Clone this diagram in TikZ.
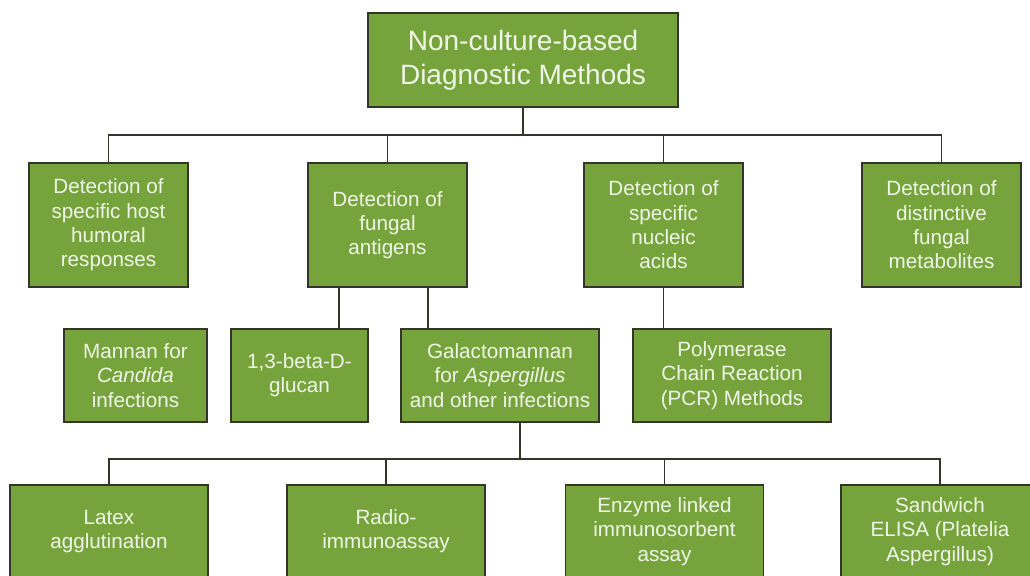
\documentclass[tikz,border=0pt]{standalone}
\usepackage{fontspec}
\setmainfont{Liberation Sans}
\usepackage{tikz}
\definecolor{boxgreen}{RGB}{118,163,60}
\definecolor{boxline}{RGB}{50,54,40}
\definecolor{boxtext}{RGB}{240,246,232}
\tikzset{
box/.style={draw=boxline, fill=boxgreen, line width=1.1pt, text=boxtext, align=center, inner sep=2pt, font=\fontsize{15.5}{18.2}\selectfont}, % every green box
rootbox/.style={box, minimum width=232.5pt, minimum height=70.5pt, font=\fontsize{21}{25.5}\selectfont}, % the top box
upper/.style={box, minimum width=119.25pt, minimum height=93pt}, % first row of methods
lower/.style={box, minimum width=148.5pt, minimum height=69.75pt}, % second and third rows
link/.style={draw=boxline, line width=1.3pt}, % the tree lines
}

\begin{document}
\begin{tikzpicture}[x=0.75pt, y=-0.75pt]
            \useasboundingbox (0,0) rectangle (1030,575);
            \clip (0,0) rectangle (1030,575);
            \node[rootbox] (root) at (523,60) {Non-culture-based\\Diagnostic Methods};
            \node[upper] (host) at (108.5,225) {Detection of\\specific host\\humoral\\responses};
            \node[upper] (antigen) at (387.5,225) {Detection of\\fungal\\antigens};
            \node[upper] (nucleic) at (663.5,225) {Detection of\\specific\\nucleic\\acids};
            \node[upper] (metabolite) at (941.5,225) {Detection of\\distinctive\\fungal\\metabolites};
            \node[lower, minimum width=107.25pt] (mannan) at (135.5,375.5) {Mannan for\\\textit{Candida}\\infections};
            \node[lower, minimum width=102.75pt] (glucan) at (299.5,375.5) {1,3-beta-D-\\glucan};
            \node[lower] (galacto) at (500,375.5) {Galactomannan\\for \textit{Aspergillus}\\and other infections};
            \node[lower] (pcr) at (732,375.5) {Polymerase\\Chain Reaction\\(PCR) Methods};
            \node[lower] (latex) at (109,531.5) {Latex\\agglutination};
            \node[lower] (radio) at (386,531.5) {Radio-\\immunoassay};
            \node[lower] (elisa) at (664.5,531.5) {Enzyme linked\\immunosorbent\\assay};
            \node[lower] (sandwich) at (940,531.5) {Sandwich\\ELISA (Platelia\\Aspergillus)};
            % first level
            \draw[link] (root.south) -- ++(0,27) coordinate (bus1);
            \draw[link] (host.north) |- (bus1) -| (metabolite.north);
            \draw[link] (antigen.north) -- (antigen.north |- bus1);
            \draw[link] (nucleic.north) -- (nucleic.north |- bus1);
            % second level
            \draw[link] (antigen.south) ++(-48.5,0) coordinate (a1) -- (a1 |- glucan.north);
            \draw[link] (antigen.south) ++(40.5,0) coordinate (a2) -- (a2 |- galacto.north);
            \draw[link] (nucleic.south) -- (nucleic.south |- pcr.north);
            % third level
            \draw[link] (galacto.south) ++(20,0) -- ++(0,36) coordinate (bus3);
            \draw[link] (latex.north) |- (bus3) -| (sandwich.north);
            \draw[link] (radio.north) -- (radio.north |- bus3);
            \draw[link] (elisa.north) -- (elisa.north |- bus3);
        \end{tikzpicture}
\end{document}
